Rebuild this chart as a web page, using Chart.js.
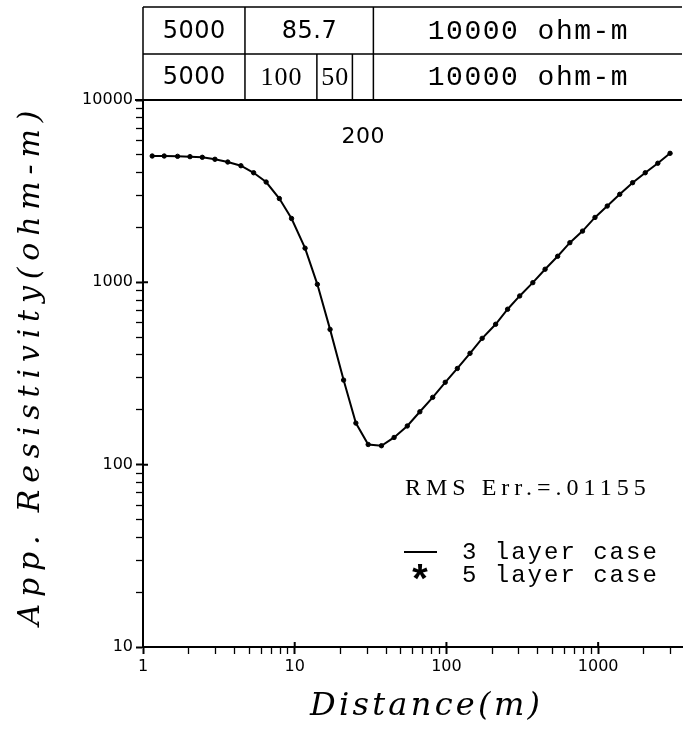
<!DOCTYPE html>
<html>
<head>
<meta charset="utf-8">
<script src="https://cdn.jsdelivr.net/npm/chart.js@4/dist/chart.umd.min.js"></script>
<style>
  html, body { margin: 0; padding: 0; background: #fff; }
  #wrap { width: 687px; height: 733px; }
</style>
</head>
<body>
<div id="wrap"><canvas id="chart"></canvas></div>
<script>
// distance (m) and apparent resistivity (ohm-m)
const distance = [1.15, 1.38, 1.69, 2.04, 2.46, 2.98, 3.62, 4.42, 5.36, 6.48, 7.92, 9.53, 11.7, 14.1,
  17.1, 21.0, 25.3, 30.5, 37.3, 45.2, 55.2, 66.8, 81.2, 98.2, 118, 143, 172, 211, 253, 304, 371, 447,
  541, 651, 789, 953, 1148, 1388, 1687, 2044, 2473, 2978];
const threeLayer = [4930, 4930, 4910, 4890, 4850, 4730, 4570, 4360, 3990, 3550, 2880, 2240, 1540, 975,
  552, 291, 169, 129, 127, 141, 163, 195, 234, 283, 337, 408, 493, 589, 712, 842, 996, 1180,
  1390, 1650, 1910, 2270, 2620, 3040, 3520, 3990, 4500, 5100];
const fiveLayer = [4930, 4930, 4910, 4890, 4850, 4730, 4570, 4360, 3990, 3550, 2880, 2240, 1540, 975,
  552, 291, 169, 129, 127, 141, 163, 195, 234, 283, 337, 408, 493, 589, 712, 842, 996, 1180,
  1390, 1650, 1910, 2270, 2620, 3040, 3520, 3990, 4500, 5100];

const xTickLabels = [1, 10, 100, 1000];
const yTickLabels = [10, 100, 1000, 10000];

// layered models shown above the plot (boundaries on the distance axis)
const threeLayerRho = ["5000", "85.7", "10000 ohm-m"];
const threeLayerBounds = [4.7, 33];
const fiveLayerRho = ["5000", "100", "50", "", "10000 ohm-m"];
const fiveLayerBounds = [4.7, 14, 24, 33];
const thinLayerRho = "200";
const rmsText = "RMS Err.=.01155";
const legendRows = [["line", "3 layer case"], ["*", "5 layer case"]];

const logTicks = (min, max) => {
  const out = [];
  for (let p = Math.pow(10, Math.floor(Math.log10(min))); p <= max; p *= 10) {
    for (let m = 1; m < 10; m++) {
      const v = m * p;
      if (v >= min && v <= max) out.push({ value: v });
    }
  }
  return out;
};

const spaced = (ctx, text, x, y, ls, align) => {
  ctx.letterSpacing = ls + "px";
  const w = ctx.measureText(text).width - ls;
  const sx = align === "center" ? x - w / 2 : x;
  ctx.textAlign = "left";
  ctx.fillText(text, sx, y);
  ctx.letterSpacing = "0px";
};

const overlay = {
  id: "overlay",
  afterDraw(chart) {
    const { ctx, chartArea: a, scales: { x, y } } = chart;
    const top = 7, mid = 54, bot = a.top;
    ctx.save();
    ctx.strokeStyle = "#000";
    ctx.fillStyle = "#000";
    ctx.lineWidth = 1.5;
    ctx.beginPath();
    ctx.moveTo(a.left, top); ctx.lineTo(a.right, top);
    ctx.moveTo(a.left, mid); ctx.lineTo(a.right, mid);
    ctx.moveTo(a.left, top); ctx.lineTo(a.left, bot);
    threeLayerBounds.forEach(d => {
      const px = x.getPixelForValue(d);
      ctx.moveTo(px, top); ctx.lineTo(px, mid);
    });
    fiveLayerBounds.forEach(d => {
      const px = x.getPixelForValue(d);
      ctx.moveTo(px, mid); ctx.lineTo(px, bot);
    });
    ctx.stroke();
    ctx.lineWidth = 2;
    ctx.beginPath();
    ctx.moveTo(a.left - 8, bot); ctx.lineTo(a.right, bot);
    // major ticks cross the axes
    yTickLabels.forEach(v => {
      const py = y.getPixelForValue(v);
      ctx.moveTo(a.left, py); ctx.lineTo(a.left + 5, py);
    });
    xTickLabels.forEach(v => {
      const px = x.getPixelForValue(v);
      ctx.moveTo(px, a.bottom); ctx.lineTo(px, a.bottom - 5);
    });
    ctx.stroke();

    ctx.textBaseline = "middle";
    const row = (labels, bounds, fonts, yy) => {
      const edges = [a.left, ...bounds.map(d => x.getPixelForValue(d)), a.right];
      labels.forEach((t, i) => {
        if (!t) return;
        ctx.font = fonts[i][0];
        spaced(ctx, t, (edges[i] + edges[i + 1]) / 2, yy, fonts[i][1], "center");
      });
    };
    const sans = ["24px 'DejaVu Sans'", 0.5];
    const serif = ["26px 'Liberation Serif'", 1];
    const mono = ["28px 'Liberation Mono'", 1.5];
    row(threeLayerRho, threeLayerBounds, [sans, sans, mono], (top + mid) / 2 + 1);
    row(fiveLayerRho, fiveLayerBounds, [sans, serif, serif, serif, mono], (mid + bot) / 2 + 1);

    // label for the thin 4th layer
    ctx.font = "22px 'DejaVu Sans'";
    const thinX = (x.getPixelForValue(fiveLayerBounds[2]) + x.getPixelForValue(fiveLayerBounds[3])) / 2;
    spaced(ctx, thinLayerRho, thinX, 137, 0.5, "center");

    ctx.font = "24px 'Liberation Serif'";
    spaced(ctx, rmsText, 405, 489, 5, "left");

    ctx.font = "24px 'Liberation Mono'";
    legendRows.forEach(([mark, label], i) => {
      const yy = 553 + i * 23;
      if (mark === "line") {
        ctx.lineWidth = 2;
        ctx.beginPath(); ctx.moveTo(404, yy - 1); ctx.lineTo(437, yy - 1); ctx.stroke();
      } else {
        ctx.font = "bold 40px 'Liberation Mono'";
        ctx.fillText(mark, 408, yy + 8);
        ctx.font = "24px 'Liberation Mono'";
      }
      spaced(ctx, label, 462, yy, 2, "left");
    });

    // axis titles
    ctx.font = "italic 32px 'DejaVu Serif'";
    const xt = "Distance(m)";
    let w0 = ctx.measureText(xt).width;
    spaced(ctx, xt, 425, 707, (230 - w0) / (xt.length - 1), "center");

    ctx.font = "italic 30px 'DejaVu Serif'";
    const yt = "App. Resistivity(ohm-m)";
    w0 = ctx.measureText(yt).width;
    ctx.translate(31, 368);
    ctx.rotate(-Math.PI / 2);
    spaced(ctx, yt, 0, 0, (515 - w0) / (yt.length - 1), "center");
    ctx.restore();
  }
};

const axisCommon = (labels) => ({
  type: "logarithmic",
  afterBuildTicks: s => { s.ticks = logTicks(s.min, s.max); },
  grid: {
    drawOnChartArea: false,
    drawTicks: true,
    tickLength: 7,
    tickColor: "#000",
    tickWidth: c => (labels.includes(c.tick && c.tick.value) ? 2 : 1.3)
  },
  border: { display: true, color: "#000", width: 2 },
  ticks: {
    autoSkip: false,
    maxRotation: 0,
    color: "#000",
    font: { family: "'DejaVu Sans'", size: 16 },
    callback: v => (labels.includes(v) ? String(v) : "")
  }
});

new Chart(document.getElementById("chart"), {
  type: "line",
  data: {
    datasets: [
      {
        label: "3 layer case",
        data: distance.map((d, i) => ({ x: d, y: threeLayer[i] })),
        borderColor: "#000",
        borderWidth: 2,
        pointRadius: 0,
        tension: 0
      },
      {
        label: "5 layer case",
        data: distance.map((d, i) => ({ x: d, y: fiveLayer[i] })),
        showLine: false,
        pointStyle: "circle",
        pointRadius: 2.2,
        backgroundColor: "#000",
        borderColor: "#000"
      }
    ]
  },
  options: {
    responsive: true,
    maintainAspectRatio: false,
    animation: false,
    devicePixelRatio: 1,
    layout: { padding: { top: 100, right: 0, left: 0, bottom: 0 } },
    plugins: { legend: { display: false }, tooltip: { enabled: false } },
    scales: {
      x: Object.assign(axisCommon(xTickLabels), {
        min: 1, max: 3570,
        afterFit: s => { s.height = 86; }
      }),
      y: Object.assign(axisCommon(yTickLabels), {
        min: 10, max: 10000,
        afterFit: s => { s.width = 143; }
      })
    }
  },
  plugins: [overlay]
});
</script>
</body>
</html>
